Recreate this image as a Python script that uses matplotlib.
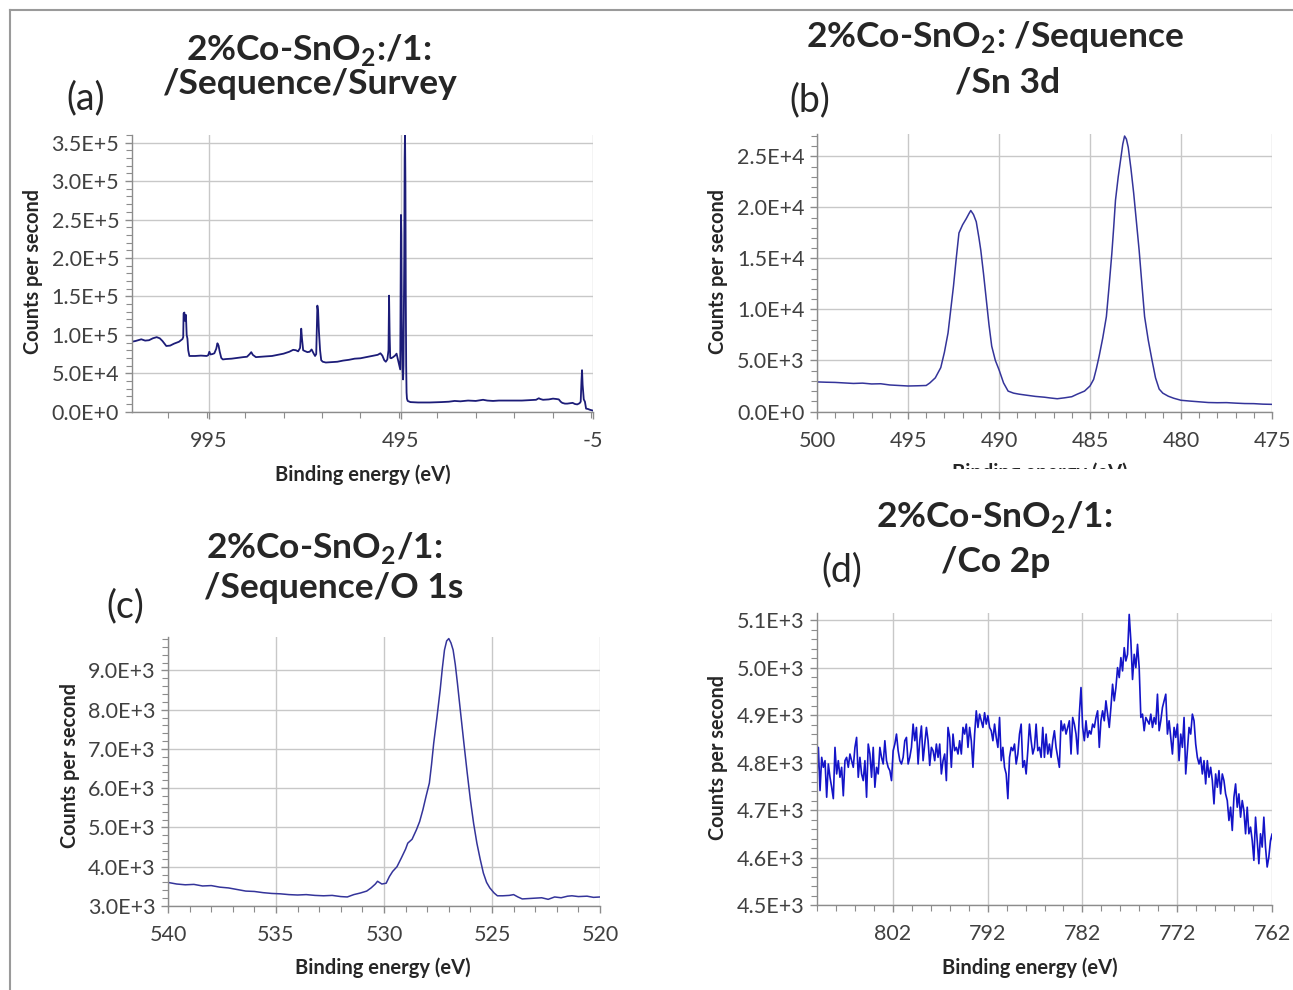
import numpy as np
import matplotlib
matplotlib.use("Agg")
import matplotlib.pyplot as plt
from matplotlib.ticker import MultipleLocator, FuncFormatter, FixedLocator
from matplotlib.patches import Rectangle
from matplotlib.lines import Line2D

# ---------------- DATA ----------------
# (a) Survey
survey_be = [1195, 1185, 1170, 1160, 1150, 1140, 1130, 1122, 1115, 1105, 1095, 1085, 1072, 1063,
             1061, 1060, 1058, 1056, 1054, 1052, 1050, 1048, 1045, 1030, 1015, 1000, 996, 993, 990,
             985, 980, 975, 972, 969, 966, 962, 958, 950, 935, 920, 905, 895, 888, 884, 880, 872,
             860, 845, 830, 815, 800, 785, 775, 768, 762, 757, 754, 752, 749, 745, 738, 732, 727,
             722, 718, 715, 713, 712, 710, 708, 705, 702, 698, 690, 675, 660, 645, 630, 615, 600,
             585, 570, 555, 548, 543, 538, 534, 530, 527, 525.5, 524, 522.5, 520, 515, 510, 506,
             503, 500, 498, 496.5, 495.5, 494.5, 493.5, 492.5, 491.5, 490, 489, 488, 487, 486, 485,
             484, 483, 482, 481, 480, 479, 477, 470, 450, 420, 390, 370, 355, 340, 320, 300, 281,
             270, 255, 240, 225, 212, 195, 180, 160, 143, 136, 132, 125, 110, 99, 90, 84, 79, 75,
             68, 62, 55, 48, 42, 36, 30, 27, 25, 23.5, 22, 19, 16, 13, 8, 3, -5]
survey_cps = [91000, 92000, 94200, 92500, 93000, 95500, 97000, 95500, 92000, 85500, 86000, 88500,
              91000, 94500, 97000, 128000, 129000, 118000, 126000, 100000, 95000, 80000, 72500,
              72500, 73000, 72500, 73500, 78000, 74500, 75000, 76000, 82000, 89000, 86000, 78000,
              70000, 68000, 68500, 69000, 70000, 71000, 71500, 75000, 77500, 74000, 71000, 71500,
              72000, 72500, 74000, 75500, 78000, 80500, 80000, 78500, 83000, 108000, 95000, 80000,
              79000, 77500, 78000, 81000, 76000, 72500, 75000, 120000, 138000, 130000, 105000,
              80000, 67000, 65000, 64000, 64500, 65000, 66500, 67500, 69000, 69500, 71000, 72500,
              74000, 76000, 73000, 67000, 65000, 68000, 80000, 151000, 100000, 70000, 69500, 71000,
              73000, 75500, 69000, 62000, 58000, 55000, 150000, 256000, 230000, 120000, 80000,
              50000, 42000, 60000, 130000, 200000, 330000, 365000, 300000, 150000, 60000, 25000,
              17000, 14000, 12500, 12000, 12000, 12500, 13000, 14000, 13500, 14500, 14000, 15500,
              14500, 14000, 14500, 14500, 14500, 14500, 14500, 15000, 15500, 17500, 16500, 15500,
              16000, 17000, 16500, 16000, 13000, 11500, 10500, 10500, 11000, 11500, 10000, 9500,
              11000, 13000, 40000, 54000, 35000, 16000, 13000, 4000, 3500, 2500, 1400]

# (b) Sn 3d
sn_be = [500, 499.5, 499, 498.5, 498, 497.5, 497, 496.5, 496, 495.5, 495, 494.5, 494, 493.8,
         493.5, 493.2, 493.0, 492.8, 492.65, 492.5, 492.35, 492.2, 492.0, 491.8, 491.65, 491.55,
         491.4, 491.25, 491.1, 491.0, 490.85, 490.7, 490.55, 490.4, 490.2, 490.0, 489.75, 489.5,
         489.2, 488.9, 488.5, 488.0, 487.5, 487.2, 486.8, 486.4, 486.0, 485.7, 485.5, 485.3,
         485.0, 484.8, 484.65, 484.5, 484.3, 484.1, 483.95, 483.8, 483.7, 483.6, 483.45, 483.3,
         483.2, 483.1, 483.0, 482.9, 482.75, 482.6, 482.45, 482.3, 482.15, 482.0, 481.8, 481.6,
         481.4, 481.2, 481.0, 480.7, 480.4, 480.0, 479.5, 479.0, 478.5, 478.0, 477.5, 477.0,
         476.5, 476.0, 475.5, 475.0]
sn_cps = [2900, 2870, 2850, 2800, 2750, 2780, 2700, 2720, 2600, 2550, 2500, 2520, 2550, 2800,
          3300, 4300, 5800, 7700, 10000, 12300, 15000, 17500, 18300, 18900, 19400, 19700, 19300,
          18600, 17000, 15800, 13500, 11000, 8500, 6400, 5000, 4100, 2800, 2000, 1800, 1700,
          1600, 1480, 1400, 1330, 1250, 1340, 1450, 1700, 1850, 2000, 2500, 3150, 4200, 5400,
          7200, 9300, 12300, 15500, 18000, 20700, 23000, 24900, 26200, 27000, 26700, 25900,
          23800, 21400, 18600, 15800, 12500, 9300, 7000, 5100, 3300, 2200, 1800, 1500, 1300,
          1100, 1020, 950, 880, 860, 870, 820, 780, 770, 720, 700]

# (c) O 1s
o_be = [540, 539.6, 539.2, 538.8, 538.4, 538, 537.6, 537.2, 536.8, 536.4, 536, 535.6, 535.2,
        534.8, 534.4, 534, 533.6, 533.2, 532.8, 532.4, 532, 531.7, 531.4, 531.1, 530.8, 530.6,
        530.4, 530.3, 530.1, 529.9, 529.75, 529.6, 529.4, 529.2, 529.0, 528.9, 528.7, 528.5,
        528.35, 528.2, 528.05, 527.9, 527.8, 527.7, 527.55, 527.4, 527.3, 527.2, 527.1, 527.0,
        526.9, 526.8, 526.7, 526.6, 526.45, 526.3, 526.15, 526.0, 525.85, 525.7, 525.55, 525.4,
        525.25, 525.1, 524.9, 524.75, 524.5, 524.2, 524.0, 523.8, 523.6, 523.3, 523.0, 522.7,
        522.4, 522.1, 521.8, 521.5, 521.3, 521.0, 520.6, 520.3, 520]
o_cps = [3600, 3560, 3540, 3550, 3510, 3520, 3480, 3460, 3420, 3380, 3370, 3340, 3320, 3310,
         3290, 3280, 3290, 3270, 3260, 3270, 3240, 3230, 3290, 3330, 3380, 3460, 3560, 3630,
         3560, 3580, 3750, 3880, 4000, 4220, 4450, 4600, 4700, 4940, 5150, 5450, 5800, 6130,
         6600, 7140, 7800, 8500, 9050, 9520, 9750, 9810, 9700, 9520, 9150, 8670, 7900, 7140,
         6400, 5700, 5100, 4600, 4200, 3840, 3600, 3460, 3330, 3260, 3260, 3270, 3290, 3230,
         3180, 3190, 3200, 3210, 3170, 3230, 3210, 3250, 3260, 3240, 3250, 3220, 3230]

# (d) Co 2p  (energy grid 810 -> 762 eV, constant step)
co_start, co_end = 810.0, 761.84
co_cps = [4762, 4832, 4741, 4811, 4790, 4804, 4727, 4797, 4769, 4748, 4724, 4832, 4776, 4804,
          4769, 4790, 4730, 4804, 4811, 4790, 4818, 4804, 4790, 4832, 4853, 4769, 4811, 4776,
          4762, 4804, 4727, 4839, 4818, 4769, 4832, 4748, 4790, 4776, 4832, 4811, 4797, 4846,
          4804, 4790, 4783, 4762, 4825, 4839, 4860, 4825, 4804, 4797, 4811, 4846, 4853, 4797,
          4811, 4832, 4881, 4846, 4874, 4797, 4846, 4877, 4804, 4839, 4874, 4846, 4794, 4832,
          4825, 4804, 4839, 4811, 4839, 4776, 4804, 4818, 4762, 4874, 4853, 4790, 4860, 4825,
          4832, 4818, 4846, 4818, 4874, 4860, 4881, 4832, 4874, 4846, 4790, 4860, 4909, 4874,
          4902, 4888, 4874, 4905, 4881, 4899, 4874, 4867, 4846, 4881, 4853, 4832, 4895, 4804,
          4832, 4790, 4776, 4724, 4811, 4832, 4825, 4839, 4797, 4818, 4860, 4881, 4790, 4804,
          4776, 4825, 4881, 4846, 4818, 4832, 4881, 4825, 4832, 4811, 4874,
          4811, 4860, 4818, 4839, 4811, 4846, 4867, 4832, 4811, 4790, 4888, 4867, 4881, 4860,
          4874, 4888, 4818, 4895, 4881, 4860, 4818, 4902, 4958, 4874, 4846, 4888, 4853, 4867,
          4860, 4881, 4874, 4895, 4909, 4832, 4888, 4909, 4888, 4930, 4902, 4874, 4916, 4965,
          4930, 4958, 5000, 4979, 5021, 4993, 5042, 5014, 5028, 5112, 5056, 4975, 5028, 5000,
          5049, 5000, 4895, 4902, 4867, 4895, 4888, 4881, 4902, 4874, 4895, 4881, 4944, 4867,
          4888, 4916, 4930, 4944, 4860, 4888, 4853, 4818, 4874, 4853, 4881, 4804, 4860, 4832,
          4895, 4776, 4825, 4874, 4860, 4902, 4888, 4839, 4811, 4797, 4811, 4776, 4804, 4755,
          4804, 4769, 4790, 4762, 4713, 4776, 4748, 4783, 4734, 4776, 4762, 4734, 4720, 4678,
          4706, 4657, 4727, 4755, 4706, 4734, 4685, 4720, 4699, 4650, 4706, 4650, 4664, 4636,
          4594, 4685, 4636, 4587, 4650, 4622, 4685, 4622, 4580, 4601, 4636, 4650, 4608]
co_be = np.linspace(co_start, co_end, len(co_cps))

# ---------------- STYLE ----------------
W, H = 1293, 990
plt.rcParams['font.family'] = ['Lato', 'DejaVu Sans']
plt.rcParams['axes.unicode_minus'] = False
plt.rcParams['mathtext.fontset'] = 'custom'
plt.rcParams['mathtext.rm'] = 'Lato'
plt.rcParams['mathtext.bf'] = 'Lato:bold'

fig = plt.figure(figsize=(W / 100, H / 100), dpi=100)
fig.patch.set_facecolor('white')

GRID = '#c8c8c8'
SPINE = '#8c8c8c'
TXT = '#262626'
TICKTXT = '#404040'


def sci(v, pos):
    s = f"{v:.1E}"
    return s.replace("E+0", "E+")


def px_rect(l, t, r, b):
    return [l / W, 1 - b / H, (r - l) / W, (b - t) / H]


def style_ax(ax, xlim, xmajor, xminor, ylim, ymajor, yminor, xticks=None):
    ax.set_xlim(*xlim)
    ax.set_ylim(*ylim)
    if xticks is not None:
        ax.xaxis.set_major_locator(FixedLocator(xticks))
    else:
        ax.xaxis.set_major_locator(MultipleLocator(xmajor))
    ax.xaxis.set_minor_locator(MultipleLocator(xminor))
    ax.yaxis.set_major_locator(MultipleLocator(ymajor))
    ax.yaxis.set_minor_locator(MultipleLocator(yminor))
    ax.yaxis.set_major_formatter(FuncFormatter(sci))
    ax.xaxis.set_major_formatter(FuncFormatter(lambda v, p: f"{v:g}"))
    ax.grid(True, which='major', color=GRID, lw=1.0)
    ax.set_axisbelow(True)
    for s in ('top', 'right'):
        ax.spines[s].set_visible(False)
    for s in ('left', 'bottom'):
        ax.spines[s].set_color(SPINE)
        ax.spines[s].set_linewidth(1.0)
    ax.tick_params(which='major', direction='out', length=5, color=SPINE, width=1,
                   labelsize=15.5, labelcolor=TICKTXT)
    ax.tick_params(axis='y', which='major', pad=4)
    ax.tick_params(axis='x', which='major', pad=9)
    ax.tick_params(which='minor', direction='out', length=4, color=SPINE, width=0.8)


# (a)
axa = fig.add_axes(px_rect(131.7, 135, 593, 411.7))
axa.plot(survey_be, survey_cps, color='#1c1c78', lw=1.3)
style_ax(axa, (1195, -5), 500, 100, (0, 3.6e5), 5e4, 1e4, xticks=[995, 495, -5])

# (b)
axb = fig.add_axes(px_rect(817, 134, 1272, 411.5))
axb.plot(sn_be, sn_cps, color='#34349a', lw=1.1)
style_ax(axb, (500, 475), 5, 1, (0, 2.72e4), 5e3, 1e3)

# (c)
axc = fig.add_axes(px_rect(168, 637, 600, 906))
axc.plot(o_be, o_cps, color='#34349a', lw=1.1)
style_ax(axc, (540, 520), 5, 1, (3000, 9850), 1000, 200)

# (d)
axd = fig.add_axes(px_rect(816.7, 613, 1272.3, 905))
axd.plot(co_be, co_cps, color='#1414c8', lw=1.2)
style_ax(axd, (810, 762), 10, 2, (4500, 5115), 100, 20, xticks=[802, 792, 782, 772, 762])


def ftxt(x, y, s, **kw):
    return fig.text(x / W, 1 - y / H, s, ha='center', va='center', color=TXT, **kw)


TS = 25.5
PS = 27
SUB = r'$_{\mathbf{2}}$'
# titles
ftxt(309, 50, '2%Co-SnO' + SUB + ':/1:', fontsize=TS, fontweight='bold')
ftxt(310, 84, '/Sequence/Survey', fontsize=TS, fontweight='bold')
ftxt(995, 37, '2%Co-SnO' + SUB + ': /Sequence', fontsize=TS, fontweight='bold')
ftxt(1008, 82, '/Sn 3d', fontsize=TS, fontweight='bold')
ftxt(324, 548, '2%Co-SnO' + SUB + '/1:', fontsize=TS, fontweight='bold')
ftxt(334, 588, '/Sequence/O 1s', fontsize=TS, fontweight='bold')
ftxt(994, 517, '2%Co-SnO' + SUB + '/1:', fontsize=TS, fontweight='bold')
ftxt(996, 562, '/Co 2p', fontsize=TS, fontweight='bold')

# panel labels
ftxt(86, 98, '(a)', fontsize=PS)
ftxt(810, 100, '(b)', fontsize=PS)
ftxt(125, 606, '(c)', fontsize=PS)
ftxt(842, 570, '(d)', fontsize=PS)

# axis labels
for (x, y) in [(33, 272), (718, 272), (70, 765), (718, 758)]:
    ftxt(x, y, 'Counts per second', fontsize=14.3, fontweight='bold', rotation=90)
for (x, y) in [(363, 475), (383, 968), (1030, 968)]:
    ftxt(x, y, 'Binding energy (eV)', fontsize=14.5, fontweight='bold')
tb = fig.text(1040 / W, 1 - 462 / H, 'Binding energy (eV)', ha='center', va='top',
              color=TXT, fontsize=14.5, fontweight='bold')
clip = Rectangle((900 / W, 1 - 469 / H), 300 / W, 10 / H, transform=fig.transFigure,
                 fill=False, visible=False)
fig.patches.append(clip)
tb.set_clip_path(clip)

# outer frame (top and left)
fig.add_artist(Line2D([10 / W, 1], [1 - 10 / H, 1 - 10 / H], transform=fig.transFigure,
                      color='#9a9a9a', lw=1.5))
fig.add_artist(Line2D([10 / W, 10 / W], [0, 1 - 10 / H], transform=fig.transFigure,
                      color='#9a9a9a', lw=1.5))

fig.savefig('out.png', dpi=100, facecolor='white')
